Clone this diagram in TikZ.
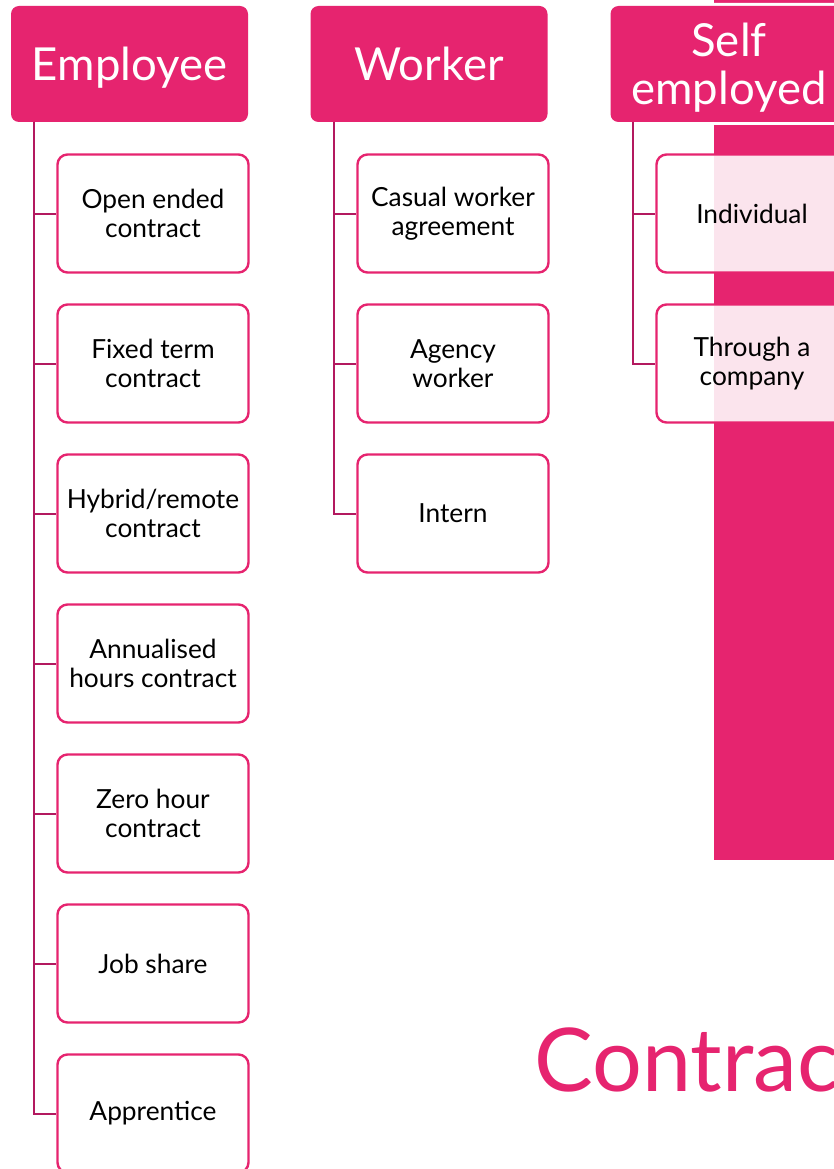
\documentclass[tikz,border=0pt]{standalone}
\usepackage{fontspec}
\setmainfont{Lato}
\definecolor{brandpink}{HTML}{E6246F}
\definecolor{linkplum}{HTML}{B3195F}
\tikzset{
  head/.style={fill=brandpink, text=white, rounded corners=8pt, minimum width=237pt,
    minimum height=116pt, inner sep=0pt, align=center, text depth=0pt,
    font=\fontsize{45.5}{48}\selectfont, preaction={draw=white,line width=6pt}},
  item/.style={draw=brandpink, line width=2.4pt, fill=white, fill opacity=0.88,
    text opacity=1, rounded corners=10pt, minimum width=191pt, minimum height=118pt,
    inner sep=0pt, align=center, font=\fontsize{26.3}{28.5}\selectfont},
  link/.style={draw=linkplum, line width=2pt},
}
\begin{document}
\begin{tikzpicture}[x=1pt,y=-1pt]
\useasboundingbox (0,0) rectangle (834,1169);
\clip (0,0) rectangle (834,1169);
%\draw[step=50,gray,very thin] (0,0) grid (834,1169); %background grid
\fill[brandpink] (714,0) rectangle (860,860);
% headers
\node[head] (emp) at (129.5,64) {Employee};
\node[head] (wrk) at (429,64) {Worker};
\node[head] (self) at (729,64) {Self\\employed};
\coordinate (empt) at (34,122);
\coordinate (wrkt) at (334,122);
\coordinate (selft) at (633,122);
% employee
\node[item] (e1) at (153,213.5) {Open ended\\contract};
\node[item] (e2) at (153,363.5) {Fixed term\\contract};
\node[item] (e3) at (153,513.5) {Hybrid/remote\\contract};
\node[item] (e4) at (153,663.5) {Annualised\\hours contract};
\node[item] (e5) at (153,813.5) {Zero hour\\contract};
\node[item] (e6) at (153,963.5) {Job share};
\node[item] (e7) at (153,1113.5) {Apprentice};
% worker
\node[item] (w1) at (453,213.5) {Casual worker\\agreement};
\node[item] (w2) at (453,363.5) {Agency\\worker};
\node[item] (w3) at (453,513.5) {Intern};
% self employed
\node[item] (s1) at (752,213.5) {Individual};
\node[item] (s2) at (752,363.5) {Through a\\company};
\foreach \n in {e1,e2,e3,e4,e5,e6,e7} \draw[link] (empt) |- (\n.west);
\foreach \n in {w1,w2,w3} \draw[link] (wrkt) |- (\n.west);
\foreach \n in {s1,s2} \draw[link] (selft) |- (\n.west);
\node[anchor=base west, inner sep=0pt, text=brandpink, font=\fontsize{88}{90}\selectfont] (title) at (534,1091) {Contrac};
\end{tikzpicture}
\end{document}
